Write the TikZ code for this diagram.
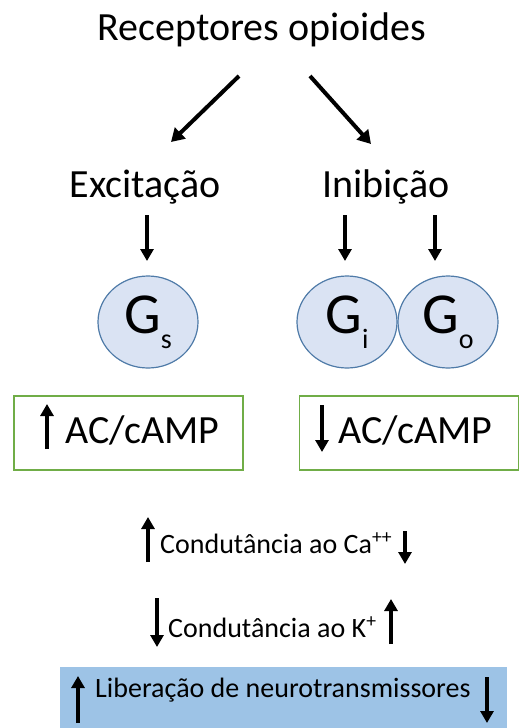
\documentclass[tikz,border=0pt]{standalone}
\usepackage{fontspec}
\setmainfont{Carlito}
\usetikzlibrary{arrows.meta,shapes.geometric}
\definecolor{boxgreen}{HTML}{70AD47}
\definecolor{gfill}{HTML}{DAE3F3}
\definecolor{gline}{HTML}{4F7BA8}
\definecolor{barfill}{HTML}{9DC3E6}
\newcommand{\gsub}[1]{{\fontsize{28}{30}\selectfont\raisebox{-15pt}{#1}}}
\begin{document}
\begin{tikzpicture}[x=1pt,y=-1pt,
  big/.style={font=\fontsize{40}{48}\selectfont, inner sep=0pt},
  small/.style={font=\fontsize{28}{34}\selectfont, inner sep=0pt},
  conn/.style={line width=3.2pt,-{Triangle[length=12pt,width=13pt]}},
  diag/.style={line width=4pt,-{Triangle[length=13pt,width=15pt]}},
  fat/.style={line width=4.2pt,-{Triangle[length=12pt,width=13pt]}},
  gprot/.style={ellipse, draw=gline, line width=1.2pt, fill=gfill,
    minimum width=100pt, minimum height=92pt, inner sep=0pt,
    font=\fontsize{58}{64}\selectfont},
  acbox/.style={draw=boxgreen, line width=1.5pt, fill=white, inner sep=0pt}
]
\useasboundingbox (0,0) rectangle (519,728);

% headings
\node[big, anchor=base] (title) at (262,40) {Receptores opioides};
\node[big, anchor=base] (exc) at (145,197) {Excitação};
\node[big, anchor=base] (inib) at (386,197) {Inibição};

% diagonal connectors from the receptors
\coordinate (dl0) at (239,76);
\coordinate (dl1) at (171,142);
\coordinate (dr0) at (310,76);
\coordinate (dr1) at (371,144);
\draw[diag] (dl0) -- (dl1);
\draw[diag] (dr0) -- (dr1);

% G proteins
\node[gprot] (gs) at (148,322) {G\gsub{s}};
\node[gprot] (gi) at (347,322) {G\gsub{i}};
\node[gprot] (go) at (448,322) {G\gsub{o}};

% vertical connectors down to the G proteins
\coordinate (vs0) at (147,215);
\coordinate (vs1) at (147,261);
\coordinate (vi0) at (345,215);
\coordinate (vi1) at (345,261);
\coordinate (vo0) at (435,215);
\coordinate (vo1) at (435,261);
\draw[conn] (vs0) -- (vs1);
\draw[conn] (vi0) -- (vi1);
\draw[conn] (vo0) -- (vo1);

% adenylate cyclase boxes
\node[acbox, minimum width=229pt, minimum height=74pt, anchor=north west] (acl) at (13,395) {};
\node[acbox, minimum width=219pt, minimum height=74pt, anchor=north west] (acr) at (298.5,395) {};
\node[big, anchor=base west] (acltext) at (65,443) {AC/cAMP};
\node[big, anchor=base west] (acrtext) at (338,443) {AC/cAMP};
\coordinate (acl0) at (47,449);
\coordinate (acl1) at (47,404);
\coordinate (acr0) at (322,405);
\coordinate (acr1) at (322,452);
\draw[fat] (acl0) -- (acl1);
\draw[fat] (acr0) -- (acr1);

% conductances
\node[small, anchor=base west] (ca) at (160,553) {Condutância ao Ca\textsuperscript{++}};
\coordinate (ca0) at (148,562);
\coordinate (ca1) at (148,517);
\coordinate (ca2) at (405,531);
\coordinate (ca3) at (405,564);
\draw[fat] (ca0) -- (ca1);
\draw[fat] (ca2) -- (ca3);

\node[small, anchor=base west] (k) at (168,637) {Condutância ao K\textsuperscript{+}};
\coordinate (k0) at (157,598);
\coordinate (k1) at (157,647);
\coordinate (k2) at (391,644);
\coordinate (k3) at (391,599);
\draw[fat] (k0) -- (k1);
\draw[fat] (k2) -- (k3);

% neurotransmitter release bar
\fill[barfill] (60,667) rectangle (507,728);
\node[small, anchor=base west] (lib) at (95,697) {Liberação de neurotransmissores};
\coordinate (lb0) at (78,723);
\coordinate (lb1) at (78,676);
\coordinate (lb2) at (487,677);
\coordinate (lb3) at (487,723);
\draw[fat] (lb0) -- (lb1);
\draw[fat] (lb2) -- (lb3);
\end{tikzpicture}
\end{document}
